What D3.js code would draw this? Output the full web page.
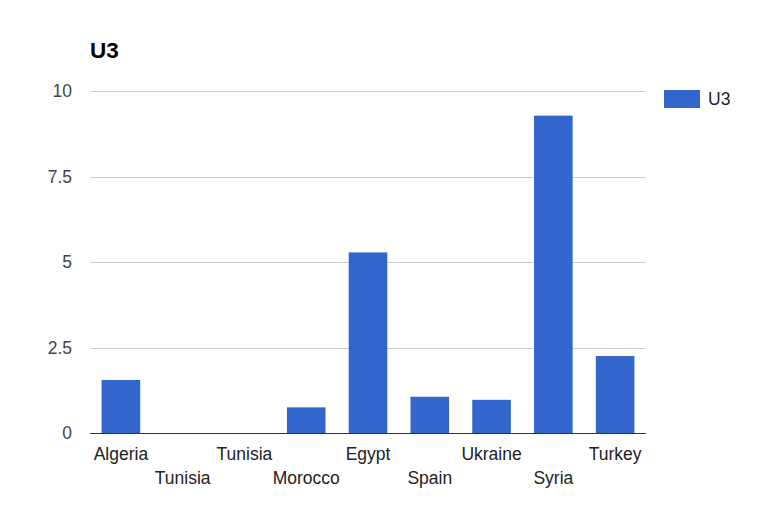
<!DOCTYPE html>
<html>
<head>
<meta charset="utf-8">
<script src="https://cdn.jsdelivr.net/npm/d3@7"></script>
<style>
  html, body { margin: 0; padding: 0; background: #fff; }
  svg { display: block; font-family: Arial, "Liberation Sans", sans-serif; }
</style>
</head>
<body>
<svg id="chart" width="767" height="512"></svg>
<script>
const title = "U3";
const seriesName = "U3";
const categories = ["Algeria", "Tunisia", "Tunisia", "Morocco", "Egypt", "Spain", "Ukraine", "Syria", "Turkey"];
const values = [1.55, 0, 0, 0.75, 5.28, 1.06, 0.97, 9.28, 2.25];
const yTicks = [0, 2.5, 5, 7.5, 10];
const yTickLabels = ["0", "2.5", "5", "7.5", "10"];

const svg = d3.select("#chart");
const plotLeft = 90, plotRight = 646, plotTop = 91, plotBottom = 433;

const x = d3.scaleBand()
  .domain(d3.range(categories.length))
  .range([plotLeft, plotRight])
  .paddingInner(0.375)
  .paddingOuter(0.1875);

const y = d3.scaleLinear().domain([0, 10]).range([plotBottom, plotTop]);

// gridlines
svg.append("g").selectAll("line")
  .data(yTicks.filter(t => t !== 0))
  .join("line")
  .attr("x1", plotLeft).attr("x2", plotRight)
  .attr("y1", d => Math.round(y(d)) + 0.5).attr("y2", d => Math.round(y(d)) + 0.5)
  .attr("stroke", "#cccccc").attr("stroke-width", 1);

// y tick labels
svg.append("g").selectAll("text")
  .data(yTicks)
  .join("text")
  .attr("x", 72)
  .attr("y", d => y(d))
  .attr("dy", "0.35em")
  .attr("text-anchor", "end")
  .attr("font-size", "17.5px")
  .attr("fill", "#444")
  .text((d, i) => yTickLabels[i]);

// bars
svg.append("g").selectAll("rect")
  .data(values)
  .join("rect")
  .attr("x", (d, i) => x(i))
  .attr("width", x.bandwidth())
  .attr("y", d => y(d))
  .attr("height", d => plotBottom - y(d))
  .attr("fill", "#3366cc");

// baseline
svg.append("line")
  .attr("x1", plotLeft).attr("x2", plotRight)
  .attr("y1", plotBottom + 0.5).attr("y2", plotBottom + 0.5)
  .attr("stroke", "#333333").attr("stroke-width", 1);

// x labels (alternating rows)
svg.append("g").selectAll("text")
  .data(categories)
  .join("text")
  .attr("x", (d, i) => x(i) + x.bandwidth() / 2)
  .attr("y", (d, i) => i % 2 === 0 ? 460 : 484)
  .attr("text-anchor", "middle")
  .attr("font-size", "17.5px")
  .attr("fill", "#222")
  .text(d => d);

// title
svg.append("text")
  .attr("x", 90).attr("y", 57.7)
  .attr("font-size", "22.5px")
  .attr("font-weight", "bold")
  .attr("fill", "#000")
  .text(title);

// legend
const lg = svg.append("g");
lg.append("rect")
  .attr("x", 664).attr("y", 90)
  .attr("width", 36).attr("height", 18)
  .attr("fill", "#3366cc");
lg.append("text")
  .attr("x", 708).attr("y", 99)
  .attr("dy", "0.35em")
  .attr("font-size", "17.5px")
  .attr("fill", "#222")
  .text(seriesName);
</script>
</body>
</html>
